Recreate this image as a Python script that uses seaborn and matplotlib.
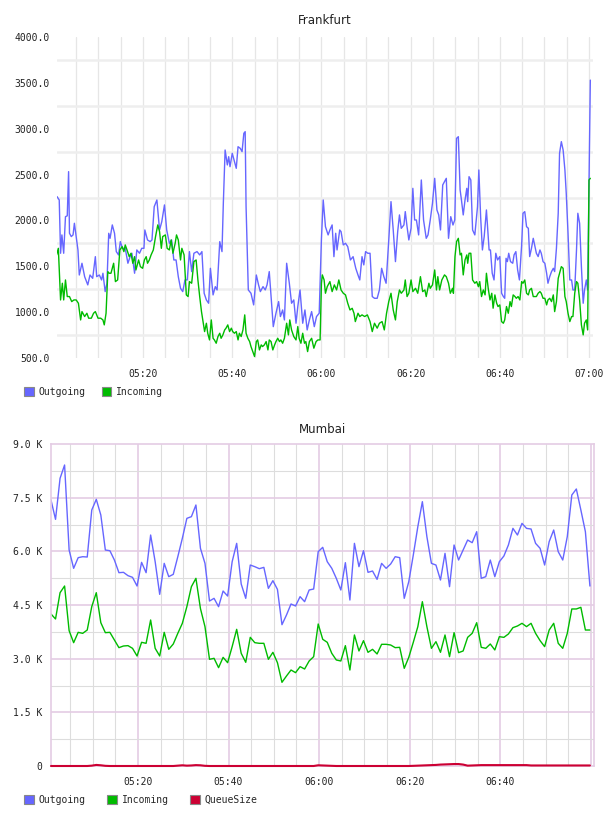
import numpy as np
import pandas as pd
import matplotlib
matplotlib.use('Agg')
import matplotlib.pyplot as plt
import seaborn as sns
from matplotlib.patches import Patch

# Frankfurt, minutes after 05:00 and values
fra_out_t = [0.7, 1.2, 1.5, 1.8, 2.2, 2.6, 3.0, 3.3, 3.5, 3.9, 4.3, 4.6, 5.0, 5.4, 5.7, 6.3, 6.9, 7.6, 8.1, 8.7,
             9.3, 9.6, 10.2, 10.7, 11.0, 11.5, 11.9, 12.3, 12.6, 13.1, 13.6, 14.0, 14.5, 14.9, 15.4, 16.0, 16.6, 17.1, 17.5, 18.1,
             18.6, 19.2, 19.7, 20.2, 20.4, 21.0, 21.6, 22.0, 22.5, 23.1, 23.7, 24.2, 24.8, 25.3, 25.9, 26.4, 26.9, 27.4, 27.9, 28.4,
             28.9, 29.4, 29.9, 30.4, 30.9, 31.4, 32.1, 32.7, 33.2, 33.7, 34.2, 34.7, 35.1, 35.7, 36.2, 36.6, 37.2, 37.7, 38.0, 38.4,
             38.9, 39.2, 39.5, 40.0, 40.4, 40.9, 41.3, 41.8, 42.2, 42.6, 42.9, 43.1, 43.6, 44.2, 44.8, 45.4, 45.9, 46.3, 46.9, 47.4,
             47.8, 48.3, 48.7, 49.2, 49.8, 50.4, 50.8, 51.3, 51.7, 52.2, 52.8, 53.3, 53.8, 54.3, 54.7, 55.2, 55.8, 56.3, 56.8, 57.3,
             57.8, 58.4, 58.9, 59.5, 60.0, 60.4, 60.9, 61.5, 61.9, 62.4, 62.8, 63.2, 63.5, 64.1, 64.4, 64.9, 65.4, 65.9, 66.5, 67.1,
             67.7, 68.2, 68.6, 69.1, 69.5, 69.9, 70.4, 70.9, 71.4, 71.9, 72.5, 73.0, 73.5, 74.0, 74.5, 75.1, 75.6, 76.1, 76.6, 77.1,
             77.5, 77.9, 78.5, 78.8, 79.2, 79.6, 80.1, 80.5, 80.9, 81.3, 81.8, 82.4, 82.9, 83.5, 83.9, 84.4, 84.9, 85.4, 85.9, 86.3,
             86.7, 87.2, 87.6, 88.0, 88.5, 89.0, 89.5, 89.9, 90.3, 90.7, 91.1, 91.4, 91.8, 92.2, 92.6, 92.8, 93.1, 93.5, 93.9, 94.4,
             95.0, 95.3, 95.7, 96.1, 96.5, 97.0, 97.6, 97.9, 98.3, 98.7, 99.1, 99.5, 100.0, 100.4, 100.8, 101.1, 101.4, 101.7, 102.0, 102.4,
             102.9, 103.2, 103.6, 104.0, 104.4, 104.9, 105.2, 105.6, 106.0, 106.4, 106.7, 107.1, 107.5, 107.9, 108.2, 108.6, 109.0, 109.3, 109.7, 110.1,
             110.5, 110.8, 111.2, 111.6, 112.0, 112.3, 112.7, 113.1, 113.4, 113.8, 114.2, 114.6, 114.9, 115.3, 115.7, 116.1, 116.4, 116.8, 117.2, 117.5,
             117.9, 118.3, 118.7, 119.0, 119.4, 119.7, 120.3]
fra_out = [2260, 2223, 1642, 1842, 1642, 2041, 2050, 2532, 1860, 1824, 1842, 1969, 1824, 1678, 1405, 1533, 1387, 1297, 1405, 1369,
           1605, 1387, 1405, 1351, 1424, 1224, 1315, 1860, 1805, 1951, 1860, 1660, 1624, 1769, 1696, 1696, 1533, 1605, 1642, 1424,
           1678, 1642, 1696, 1696, 1896, 1787, 1769, 1787, 2150, 2223, 1896, 1987, 2169, 1896, 1751, 1787, 1569, 1569, 1387, 1260,
           1224, 1351, 1351, 1660, 1442, 1642, 1660, 1624, 1660, 1206, 1133, 1097, 1478, 1188, 1278, 1242, 1769, 1660, 2187, 2768,
           2605, 2695, 2586, 2732, 2659, 2568, 2804, 2786, 2750, 2950, 2968, 2150, 1242, 1206, 1079, 1405, 1297, 1224, 1278, 1242,
           1297, 1442, 1170, 842, 988, 1115, 952, 1024, 915, 1533, 1315, 1097, 1133, 879, 1061, 1242, 879, 1024, 806, 915,
           1006, 842, 952, 988, 1800, 2223, 1932, 1842, 1896, 1951, 1605, 1860, 1678, 1896, 1878, 1733, 1751, 1714, 1569, 1605,
           1478, 1405, 1351, 1605, 1515, 1660, 1642, 1642, 1170, 1151, 1151, 1242, 1478, 1387, 1315, 1787, 2205, 1896, 1551, 1878,
           2060, 1914, 1951, 2096, 1932, 1787, 1914, 2350, 2005, 2005, 1842, 2441, 2005, 1805, 1842, 2005, 2187, 2459, 2114, 2060,
           1896, 2387, 2423, 2459, 1805, 2041, 1950, 2005, 2895, 2913, 2332, 2223, 2060, 2223, 2350, 2205, 2477, 2441, 1896, 1842,
           2150, 2550, 2041, 1678, 1824, 2114, 1678, 1678, 1424, 1351, 1642, 1569, 1606, 1206, 1170, 1151, 1587, 1551, 1642, 1551,
           1533, 1624, 1660, 1460, 1351, 1733, 2078, 2096, 1932, 1914, 1606, 1696, 1805, 1714, 1642, 1606, 1678, 1642, 1551, 1533,
           1424, 1315, 1388, 1442, 1478, 1442, 1696, 2078, 2732, 2859, 2768, 2550, 2296, 1860, 1351, 1351, 1242, 1242, 1678, 2078,
           1969, 1496, 1097, 1242, 1351, 1242, 3530]

fra_in_t = [0.6, 1.0, 1.5, 1.9, 2.2, 2.6, 3.0, 3.5, 4.0, 4.5, 5.0, 5.5, 6.0, 6.3, 6.9, 7.4, 7.8, 8.4, 8.9, 9.3,
            9.9, 10.5, 11.0, 11.3, 11.7, 12.1, 12.4, 12.8, 13.4, 13.8, 14.3, 14.8, 15.3, 15.7, 16.0, 16.4, 16.9, 17.3, 17.7, 18.1,
            18.4, 19.0, 19.4, 19.9, 20.3, 20.7, 21.0, 21.4, 21.8, 22.3, 22.8, 23.3, 23.7, 24.1, 24.4, 25.0, 25.4, 25.9, 26.3, 26.7,
            27.2, 27.5, 27.9, 28.4, 28.7, 29.2, 29.7, 30.1, 30.4, 30.9, 31.4, 31.9, 32.3, 32.7, 33.1, 33.4, 33.8, 34.2, 34.5, 34.9,
            35.3, 35.7, 36.0, 36.4, 36.8, 37.2, 37.5, 37.9, 38.3, 38.6, 39.0, 39.4, 39.8, 40.1, 40.5, 40.9, 41.3, 41.6, 42.0, 42.4,
            42.8, 43.1, 43.5, 43.9, 44.2, 44.6, 45.0, 45.4, 45.7, 46.1, 46.5, 46.8, 47.2, 47.6, 48.0, 48.3, 48.7, 49.1, 49.5, 49.8,
            50.2, 50.6, 50.9, 51.3, 51.7, 52.2, 52.6, 52.9, 53.3, 53.8, 54.3, 54.7, 55.0, 55.4, 55.8, 56.2, 56.5, 56.9, 57.3, 57.8,
            58.3, 58.8, 59.2, 59.7, 60.0, 60.2, 60.6, 60.9, 61.3, 61.9, 62.4, 62.9, 63.4, 63.9, 64.4, 64.9, 65.4, 65.9, 66.4, 66.9,
            67.3, 67.6, 68.2, 68.6, 69.1, 69.7, 70.3, 70.9, 71.4, 71.9, 72.5, 73.0, 73.6, 74.1, 74.6, 75.1, 75.6, 76.1, 76.6, 77.0,
            77.5, 77.9, 78.5, 78.8, 79.2, 79.6, 80.1, 80.5, 81.1, 81.6, 82.2, 82.7, 83.2, 83.5, 84.1, 84.4, 84.9, 85.4, 85.8, 86.1,
            86.5, 87.0, 87.6, 88.0, 88.5, 88.9, 89.4, 89.6, 89.95, 90.3, 90.7, 91.1, 91.4, 91.8, 92.2, 92.6, 92.8, 93.1, 93.5, 93.9,
            94.4, 94.8, 95.2, 95.5, 95.9, 96.3, 96.7, 97.0, 97.4, 97.8, 98.2, 98.5, 98.9, 99.3, 99.6, 100.0, 100.4, 100.8, 101.1, 101.5,
            101.9, 102.3, 102.6, 103.0, 103.4, 103.7, 104.1, 104.5, 104.9, 105.2, 105.6, 106.0, 106.4, 106.7, 107.1, 107.5, 107.9, 108.2, 108.6, 109.0,
            109.3, 109.7, 110.1, 110.5, 110.8, 111.2, 111.6, 112.0, 112.3, 112.7, 113.1, 113.4, 113.8, 114.2, 114.6, 114.9, 115.3, 115.7, 116.1, 116.4,
            116.8, 117.2, 117.5, 117.9, 118.3, 118.7, 119.0, 119.4, 119.7, 120.0, 120.3]
fra_in = [1624, 1696, 1133, 1315, 1133, 1351, 1170, 1170, 1115, 1133, 1133, 1097, 915, 1006, 952, 988, 934, 934, 988, 1006,
          934, 934, 915, 861, 988, 1442, 1424, 1424, 1533, 1333, 1351, 1678, 1714, 1660, 1733, 1678, 1605, 1642, 1533, 1605,
          1460, 1569, 1496, 1478, 1569, 1605, 1533, 1569, 1624, 1678, 1824, 1951, 1878, 1696, 1824, 1842, 1696, 1678, 1787, 1642,
          1751, 1842, 1787, 1569, 1696, 1624, 1188, 1170, 1333, 1315, 1551, 1569, 1351, 1170, 1006, 915, 788, 879, 770, 697,
          915, 715, 697, 661, 734, 770, 715, 752, 806, 825, 861, 788, 825, 788, 770, 788, 697, 770, 734, 806,
          970, 770, 715, 679, 625, 570, 516, 679, 697, 588, 643, 625, 643, 679, 588, 697, 679, 588, 643, 679,
          715, 679, 697, 661, 715, 879, 752, 915, 806, 734, 697, 843, 715, 661, 770, 661, 679, 570, 679, 715,
          607, 679, 697, 697, 1315, 1406, 1351, 1206, 1278, 1333, 1224, 1297, 1242, 1351, 1242, 1206, 1188, 1097, 1024, 1042,
          988, 897, 988, 952, 970, 952, 970, 897, 788, 879, 825, 879, 897, 806, 988, 1115, 1206, 1024, 915, 1115,
          1242, 1206, 1242, 1351, 1170, 1206, 1351, 1224, 1260, 1206, 1387, 1224, 1242, 1170, 1315, 1260, 1297, 1460, 1242, 1387,
          1242, 1351, 1406, 1387, 1315, 1206, 1260, 1206, 1606, 1769, 1805, 1624, 1642, 1406, 1569, 1624, 1533, 1642, 1642, 1351,
          1315, 1333, 1278, 1333, 1170, 1242, 1188, 1424, 1260, 1133, 1206, 1043, 1188, 1097, 1061, 1079, 897, 879, 915, 1061,
          988, 1115, 1061, 1188, 1170, 1151, 1170, 1133, 1333, 1315, 1351, 1206, 1188, 1242, 1260, 1170, 1170, 1170, 1206, 1224,
          1206, 1151, 1151, 1079, 1133, 1151, 1115, 1188, 1006, 1115, 1369, 1424, 1496, 1478, 1170, 1115, 988, 897, 952, 952,
          1206, 1333, 1315, 1133, 861, 752, 879, 915, 806, 2441, 2459]

# Mumbai, one sample per minute starting 05:00.8
mum_start = 0.8
mum_out = [7434, 6894, 8040, 8413, 6037, 5525, 5823, 5850, 5841, 7155, 7453, 7015, 6037, 6018, 5757, 5403, 5413, 5320, 5273, 5031,
           5692, 5403, 6456, 5710, 4798, 5664, 5292, 5357, 5850, 6363, 6922, 6969, 7295, 6084, 5664, 4611, 4686, 4453, 4891, 4751,
           5710, 6223, 5086, 4686, 5617, 5571, 5515, 5552, 4965, 5180, 4937, 3950, 4221, 4528, 4472, 4733, 4593, 4919, 4947, 5990,
           6112, 5710, 5525, 5245, 4919, 5683, 4639, 6223, 5571, 6018, 5413, 5450, 5217, 5664, 5525, 5646, 5850, 5823, 4686, 5152,
           5897, 6689, 7388, 6410, 5664, 5617, 5198, 5944, 5012, 6177, 5757, 6037, 6316, 6242, 6549, 5245, 5292, 5757, 5292, 5710,
           5869, 6177, 6642, 6456, 6782, 6642, 6624, 6223, 6084, 5617, 6270, 6596, 5990, 5757, 6410, 7574, 7742, 7155, 6549, 5030]
mum_in = [4249, 4109, 4844, 5031, 3783, 3447, 3736, 3708, 3801, 4454, 4844, 4006, 3727, 3736, 3522, 3308, 3354, 3364, 3289, 3075,
          3457, 3429, 4081, 3289, 3075, 3736, 3261, 3410, 3708, 3988, 4454, 5012, 5245, 4400, 3895, 2982, 3010, 2749, 3037, 2888,
          3336, 3820, 3149, 2898, 3596, 3447, 3429, 3429, 2982, 3177, 2888, 2339, 2516, 2683, 2609, 2777, 2711, 2935, 3056, 3969,
          3541, 3457, 3149, 2963, 2935, 3364, 2683, 3662, 3215, 3503, 3177, 3261, 3131, 3401, 3401, 3382, 3308, 3317, 2730, 3037,
          3457, 3895, 4593, 3895, 3289, 3475, 3177, 3662, 3056, 3727, 3168, 3215, 3596, 3708, 4006, 3317, 3289, 3410, 3243, 3615,
          3596, 3690, 3867, 3913, 3988, 3895, 3988, 3708, 3503, 3336, 3801, 3988, 3429, 3289, 3708, 4389, 4389, 4435, 3801, 3801]
mum_queue = [0, 0, 0, 0, 0, 0, 0, 0, 0, 10, 30, 20, 5, 0, 0, 0, 0, 0, 0, 0,
             0, 0, 0, 0, 0, 0, 0, 0, 10, 20, 10, 15, 25, 20, 5, 0, 0, 0, 0, 0,
             0, 0, 0, 0, 0, 0, 0, 0, 0, 0, 0, 0, 0, 0, 0, 0, 0, 0, 0, 20,
             15, 10, 5, 0, 0, 0, 0, 0, 0, 0, 0, 0, 0, 0, 0, 0, 0, 0, 0, 0,
             5, 10, 15, 20, 25, 30, 40, 45, 50, 55, 55, 40, 10, 15, 20, 25, 25, 25, 25, 25,
             25, 25, 25, 25, 25, 25, 15, 15, 15, 15, 15, 15, 15, 15, 15, 15, 15, 15, 15, 15]

time_ticks = [20, 40, 60, 80, 100, 120]
time_labels = ['05:20', '05:40', '06:00', '06:20', '06:40', '07:00']
fra_yticks = [500, 1000, 1500, 2000, 2500, 3000, 3500, 4000]
fra_ylabels = ['500.0', '1000.0', '1500.0', '2000.0', '2500.0', '3000.0', '3500.0', '4000.0']
mum_yticks = [0, 1500, 3000, 4500, 6000, 7500, 9000]
mum_ylabels = ['0', '1.5 K', '3.0 K', '4.5 K', '6.0 K', '7.5 K', '9.0 K']

BLUE = '#6666ff'
GREEN = '#00bb00'
RED = '#cc0033'
PINK = '#e4cce4'

sns.set_style('white')
plt.rcParams['font.family'] = ['DejaVu Sans Mono']

W, H = 608, 816
fig = plt.figure(figsize=(W / 100, H / 100), dpi=100)
ax1 = fig.add_axes([57 / W, 1 - 358 / H, 536 / W, 321 / H])
ax2 = fig.add_axes([51 / W, 1 - 766 / H, 543 / W, 322 / H])

# ---- Frankfurt
for m in range(5, 121, 5):
    ax1.axvline(m, color='#e6e6e6', lw=0.9, zorder=0)
for v in range(750, 4000, 500):
    ax1.axhline(v, color='#eeeeee', lw=1.8, zorder=0)

df_out = pd.DataFrame({'t': fra_out_t, 'v': fra_out})
df_in = pd.DataFrame({'t': fra_in_t, 'v': fra_in})
sns.lineplot(data=df_out, x='t', y='v', color=BLUE, lw=1.0, sort=False, estimator=None, ax=ax1)
sns.lineplot(data=df_in, x='t', y='v', color=GREEN, lw=1.0, sort=False, estimator=None, ax=ax1)

ax1.set_xlim(0.7, 120.9)
ax1.set_ylim(500, 4000)
ax1.set_xticks(time_ticks)
ax1.set_xticklabels(time_labels)
ax1.set_yticks(fra_yticks)
ax1.set_yticklabels(fra_ylabels)
ax1.tick_params(length=0, labelsize=7, colors='#222222')
ax1.tick_params(axis='x', pad=8)
ax1.tick_params(axis='y', pad=5)
for s in ax1.spines.values():
    s.set_visible(False)
ax1.set_xlabel('')
ax1.set_ylabel('')
ax1.set_title('Frankfurt', fontsize=8.5, family='DejaVu Sans', color='#222222', pad=9)

# ---- Mumbai
for m in range(5, 121, 5):
    major = m % 20 == 0
    ax2.axvline(m, color=PINK if major else '#dddddd', lw=1.2 if major else 0.8, zorder=0)
for v in range(750, 9000, 750):
    major = v % 1500 == 0
    ax2.axhline(v, color=PINK if major else '#dddddd', lw=1.2 if major else 0.8, zorder=0)

mum_t = mum_start + np.arange(len(mum_out))
df_m = pd.DataFrame({'t': mum_t, 'out': mum_out, 'in': mum_in, 'q': mum_queue})
sns.lineplot(data=df_m, x='t', y='out', color=BLUE, lw=1.0, ax=ax2)
sns.lineplot(data=df_m, x='t', y='in', color=GREEN, lw=1.0, ax=ax2)
l = sns.lineplot(data=df_m, x='t', y='q', color=RED, lw=1.5, ax=ax2)
l.lines[-1].set_clip_on(False)
l.lines[-1].set_zorder(4)

ax2.set_xlim(0.8, 120.7)
ax2.set_ylim(0, 9000)
ax2.set_xticks(time_ticks[:-1])
ax2.set_xticklabels(time_labels[:-1])
ax2.set_yticks(mum_yticks)
ax2.set_yticklabels(mum_ylabels)
ax2.tick_params(length=0, labelsize=7, colors='#222222')
ax2.tick_params(axis='x', pad=8)
ax2.tick_params(axis='y', pad=6)
for s in ax2.spines.values():
    s.set_color(PINK)
    s.set_linewidth(1.2)
ax2.set_xlabel('')
ax2.set_ylabel('')
ax2.set_title('Mumbai', fontsize=8.5, family='DejaVu Sans', color='#222222', pad=8)

# ---- legends
def legend(labels, colors, y, spacing):
    handles = [Patch(facecolor=c, edgecolor='#888888', lw=0.8) for c in colors]
    fig.legend(handles, labels, loc='center left', bbox_to_anchor=(24 / W, 1 - y / H),
               ncol=len(labels), frameon=False, borderpad=0, borderaxespad=0,
               handlelength=1.0, handleheight=1.0, handletextpad=0.5,
               columnspacing=spacing, prop={'family': 'DejaVu Sans Mono', 'size': 7})

legend(['Outgoing', 'Incoming'], [BLUE, GREEN], 392, 1.65)
legend(['Outgoing', 'Incoming', 'QueueSize'], [BLUE, GREEN, RED], 800, 2.2)

fig.savefig('out.png', dpi=100)
